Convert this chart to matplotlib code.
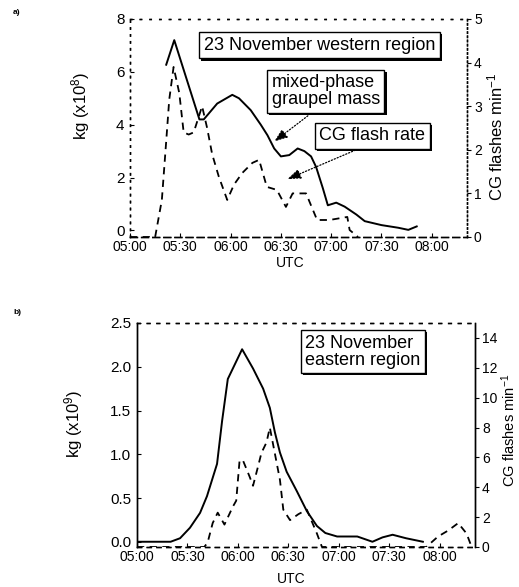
import numpy as np
import matplotlib
matplotlib.use('Agg')
import matplotlib.pyplot as plt
from matplotlib import patheffects as pe

plt.rcParams['font.family'] = ['Liberation Sans', 'DejaVu Sans']
plt.rcParams['mathtext.default'] = 'regular'

# eje x: minutos desde 05:00 UTC
xticks_min = [0, 30, 60, 90, 120, 150, 180]
xtick_labels = ['05:00', '05:30', '06:00', '06:30', '07:00', '07:30', '08:00']

# (a) 23 noviembre, region oeste
t_mass_a = [21.6, 26.4, 41.4, 44, 52, 61, 65, 72, 78, 82, 86, 90, 95, 100, 104, 108,
            111, 115, 118, 123, 128, 135, 140, 150, 160, 166, 171]
mass_a = [6.27, 7.2, 4.2, 4.2, 4.8, 5.13, 5.0, 4.55, 4.0, 3.6, 3.1, 2.8, 2.85, 3.1, 3.0, 2.8,
          2.4, 1.6, 0.95, 1.05, 0.9, 0.6, 0.35, 0.2, 0.1, 0.02, 0.15]
t_cg_a = [0, 15, 19, 21.6, 23.4, 26, 29.4, 32, 35, 38, 43, 46, 49, 53, 58, 62, 67, 73, 77,
          81.6, 87.6, 93, 97, 105, 111.6, 119, 129.6, 131, 136]
cg_a = [0, 0, 0.85, 2.2, 3.15, 3.9, 3.3, 2.4, 2.35, 2.4, 3.0, 2.5, 1.9, 1.38, 0.85, 1.2, 1.47,
        1.7, 1.77, 1.15, 1.08, 0.69, 1.0, 1.0, 0.39, 0.39, 0.46, 0.16, 0]

# (b) 23 noviembre, region este
t_mass_b = [0, 20, 25.6, 31.5, 37.5, 41.6, 47.6, 50.6, 54, 62.5, 69, 75, 79, 82, 85, 89, 95,
            101, 107, 112, 119, 131, 140, 146, 152, 160, 170]
mass_b = [0, 0, 0.04, 0.16, 0.33, 0.52, 0.89, 1.38, 1.86, 2.2, 1.98, 1.75, 1.53, 1.25, 1.02,
          0.8, 0.58, 0.35, 0.18, 0.1, 0.06, 0.06, 0.0, 0.05, 0.08, 0.04, 0.0]
t_cg_b = [0, 40, 42, 45, 48, 52, 57, 59, 61, 63, 67, 69, 72, 74, 77, 79, 85, 87, 91, 96, 101,
          107, 110, 172, 179, 185, 191, 196, 199]
cg_b = [0, 0, 0.3, 1.6, 2.3, 1.5, 2.7, 3.1, 5.8, 5.8, 4.7, 4.1, 5.4, 6.3, 7.0, 8.0, 4.5, 2.5,
        1.8, 2.2, 2.5, 0.9, 0, 0, 0.7, 1.1, 1.6, 0.9, 0]

fig = plt.figure(figsize=(5.19, 5.87), dpi=100)
W, H = 519, 587

def caja(ax, x, y, texto):
    t = ax.text(x, y, texto, fontsize=13, ha='left', va='center', linespacing=1.0,
                bbox=dict(boxstyle='square,pad=0.25', fc='white', ec='black', lw=1.0), zorder=5)
    t.get_bbox_patch().set_path_effects([
        pe.SimplePatchShadow(offset=(1.5, -1.5), shadow_rgbFace='black', alpha=1), pe.Normal()])
    return t

def flecha(ax, xy, xytext):
    ax.annotate('', xy=xy, xytext=xytext, zorder=4,
                arrowprops=dict(arrowstyle='-|>,head_length=0.8,head_width=0.3',
                                color='black', lw=0.9, linestyle=(0, (1, 1.5))))

def estilo(ax, axr, spine_ls):
    for a in (ax, axr):
        for s in a.spines.values():
            s.set_linewidth(1.0)
    for k, ls in spine_ls.items():
        ax.spines[k].set_linestyle(ls)
        axr.spines[k].set_linestyle(ls)
    ax.set_xlim(0, 201)
    ax.set_xticks(xticks_min)
    ax.set_xticklabels(xtick_labels)
    ax.tick_params(axis='x', direction='in', length=3, pad=2, labelsize=10)
    ax.tick_params(axis='y', direction='in', length=3, pad=4, labelsize=11)
    axr.tick_params(axis='y', direction='out', length=3, pad=2, labelsize=10)

# ---- panel a ----
ax1 = fig.add_axes([130 / W, 1 - 237 / H, 337 / W, 218 / H])
ax1r = ax1.twinx()
ax1.plot(t_mass_a, mass_a, color='black', lw=1.4)
ax1r.plot(t_cg_a, cg_a, color='black', lw=1.3, linestyle=(0, (4, 3)))
ax1.set_ylim(-0.25, 8)
ax1.set_yticks([0, 2, 4, 6, 8])
ax1r.set_ylim(0, 5)
ax1r.set_yticks([0, 1, 2, 3, 4, 5])
estilo(ax1, ax1r, {'left': (0, (1, 4)), 'top': (0, (1, 6)), 'right': (0, (1, 2)),
                   'bottom': (0, (5, 3))})
ax1.set_ylabel('kg (x10$^8$)', fontsize=12)
ax1.yaxis.set_label_coords(-0.113, 0.6)
ax1r.set_ylabel('CG flashes min$^{-1}$', fontsize=12, rotation=90)
ax1r.yaxis.set_label_coords(1.056, 0.46)
ax1.set_xlabel('UTC', fontsize=10)
ax1.xaxis.set_label_coords(0.475, -0.087)

caja(ax1, 44, 7.0, '23 November western region')
caja(ax1, 84.5, 5.27, 'mixed-phase\ngraupel mass')
caja(ax1, 113, 3.58, 'CG flash rate')
flecha(ax1, (84.7, 3.3), (107.4, 4.4))
flecha(ax1, (92.4, 1.9), (136, 3.08))

# ---- panel b ----
ax2 = fig.add_axes([137 / W, 1 - 547 / H, 338 / W, 224 / H])
ax2r = ax2.twinx()
ax2.plot(t_mass_b, mass_b, color='black', lw=1.4)
ax2r.plot(t_cg_b, cg_b, color='black', lw=1.3, linestyle=(0, (4, 3)))
ax2.set_ylim(-0.06, 2.5)
ax2.set_yticks([0, 0.5, 1.0, 1.5, 2.0, 2.5])
ax2.set_yticklabels(['0.0', '0.5', '1.0', '1.5', '2.0', '2.5'])
ax2r.set_ylim(0, 15)
ax2r.set_yticks([0, 2, 4, 6, 8, 10, 12, 14])
estilo(ax2, ax2r, {'left': (0, (6, 1)), 'top': (0, (2, 5)), 'right': 'solid',
                   'bottom': (0, (3, 4))})
ax2.set_ylabel('kg (x10$^9$)', fontsize=12)
ax2.yaxis.set_label_coords(-0.154, 0.55)
ax2r.set_ylabel('CG flashes min$^{-1}$', fontsize=10.5, rotation=90)
ax2r.yaxis.set_label_coords(1.072, 0.52)
ax2.set_xlabel('UTC', fontsize=10)
ax2.xaxis.set_label_coords(0.455, -0.11)

caja(ax2, 100, 2.17, '23 November\neastern region')

fig.text(13 / W, 1 - 12 / H, 'a)', fontsize=6, fontweight='bold', va='center')
fig.text(13 / W, 1 - 313 / H, 'b)', fontsize=6, fontweight='bold', va='center')

fig.savefig('out.png', dpi=100)
